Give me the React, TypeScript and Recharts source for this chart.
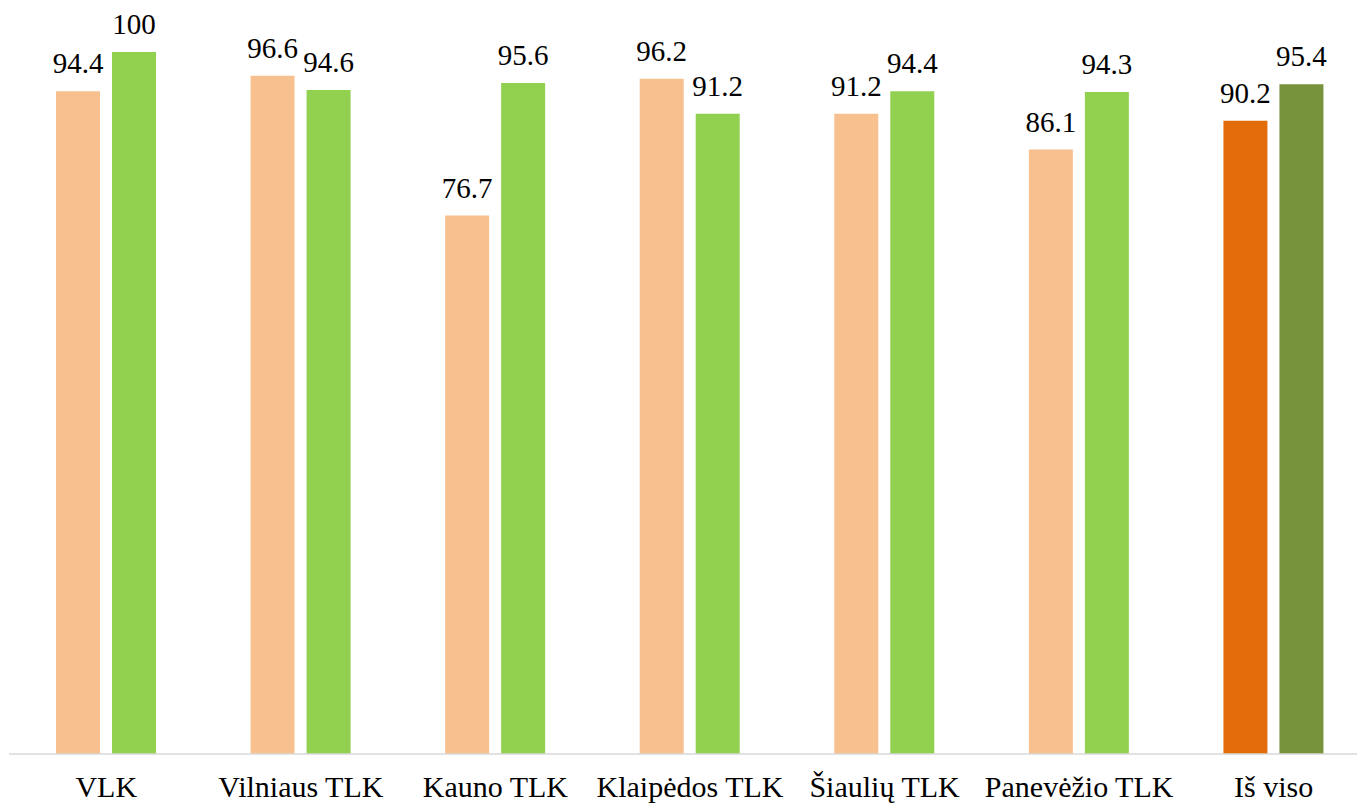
import React from "react";
import { BarChart, Bar, XAxis, YAxis, Cell, LabelList } from "recharts";

const categories = ["VLK", "Vilniaus TLK", "Kauno TLK", "Klaipėdos TLK", "Šiaulių TLK", "Panevėžio TLK", "Iš viso"];
const series1 = [94.4, 96.6, 76.7, 96.2, 91.2, 86.1, 90.2];
const series2 = [100, 94.6, 95.6, 91.2, 94.4, 94.3, 95.4];

const data = categories.map((name, i) => ({ name, s1: series1[i], s2: series2[i] }));

const FONT = "Liberation Serif, Times New Roman, serif";

const renderLabel = (props: any) => {
  const { x, y, width, value } = props;
  return (
    <text
      x={Number(x) + Number(width) / 2}
      y={Number(y) - 18}
      textAnchor="middle"
      fill="#000"
      style={{ fontFamily: FONT, fontSize: 29 }}
    >
      {value}
    </text>
  );
};

export default function App() {
  return (
    <div style={{ position: "absolute", left: 0, top: 0, width: 1357, height: 804, overflow: "hidden", background: "#fff", fontFamily: FONT }}>
      <BarChart
        width={1372}
        height={804}
        data={data}
        margin={{ top: 52, right: 1, left: 9, bottom: 0 }}
        barSize={44}
        barGap={12}
      >
        <XAxis
          dataKey="name"
          height={50}
          tickLine={false}
          tickSize={0}
          tickMargin={22}
          axisLine={{ stroke: "#d9d9d9", strokeWidth: 1.5 }}
          tick={{ fill: "#000", fontSize: 30, fontFamily: FONT }}
          interval={0}
        />
        <YAxis hide domain={[0, 100]} />
        <Bar dataKey="s1" fill="#F9C08F" isAnimationActive={false}>
          {data.map((d, i) => (
            <Cell key={i} fill={i === data.length - 1 ? "#E36C0A" : "#F9C08F"} />
          ))}
          <LabelList dataKey="s1" content={renderLabel} />
        </Bar>
        <Bar dataKey="s2" fill="#92D050" isAnimationActive={false}>
          {data.map((d, i) => (
            <Cell key={i} fill={i === data.length - 1 ? "#77933C" : "#92D050"} />
          ))}
          <LabelList dataKey="s2" content={renderLabel} />
        </Bar>
      </BarChart>
    </div>
  );
}
